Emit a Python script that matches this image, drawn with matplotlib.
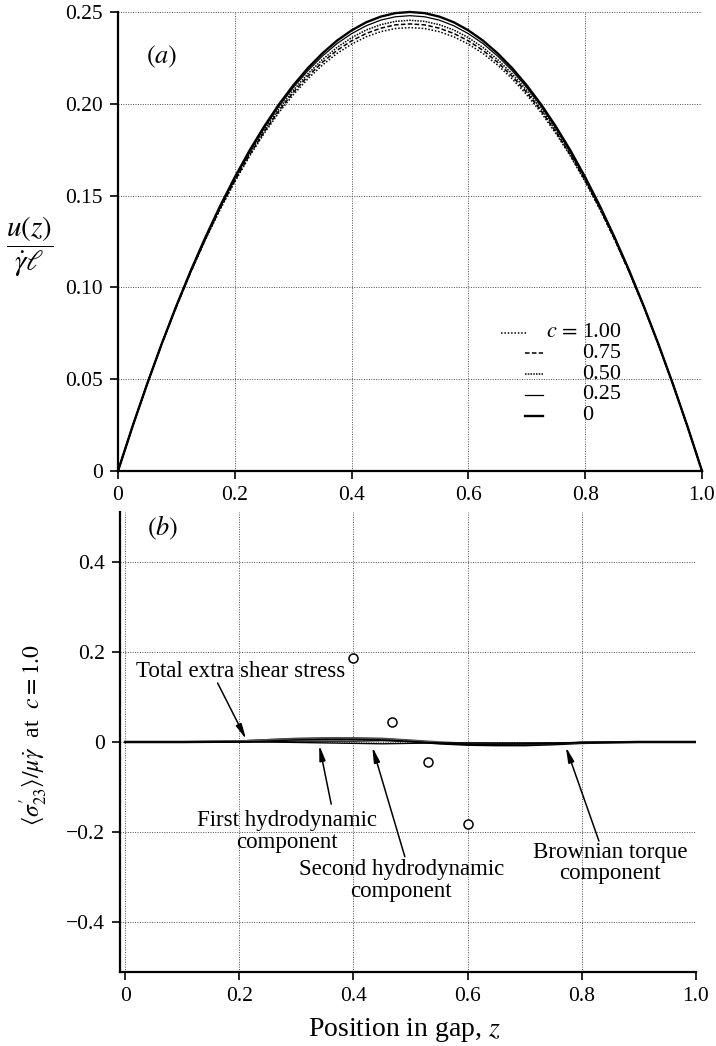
import numpy as np
import matplotlib
matplotlib.use("Agg")
import matplotlib.pyplot as plt

plt.rcParams["font.family"] = ["Liberation Serif", "DejaVu Serif"]
plt.rcParams["mathtext.fontset"] = "stix"

# ---- panel (a): velocity profiles u(z)/(gamma_dot l) for several c ----
z_a = [0.0, 0.025, 0.05, 0.075, 0.10, 0.125, 0.15, 0.175, 0.20, 0.225, 0.25,
       0.275, 0.30, 0.325, 0.35, 0.375, 0.40, 0.425, 0.45, 0.475, 0.50,
       0.525, 0.55, 0.575, 0.60, 0.625, 0.65, 0.675, 0.70, 0.725, 0.75,
       0.775, 0.80, 0.825, 0.85, 0.875, 0.90, 0.925, 0.95, 0.975, 1.0]
u_c000 = [0.0, 0.0244, 0.0475, 0.0694, 0.0900, 0.1094, 0.1275, 0.1444, 0.1600, 0.1744, 0.1875,
          0.1994, 0.2100, 0.2194, 0.2275, 0.2344, 0.2400, 0.2444, 0.2475, 0.2494, 0.2500,
          0.2494, 0.2475, 0.2444, 0.2400, 0.2344, 0.2275, 0.2194, 0.2100, 0.1994, 0.1875,
          0.1744, 0.1600, 0.1444, 0.1275, 0.1094, 0.0900, 0.0694, 0.0475, 0.0244, 0.0]
u_c025 = [0.0, 0.0244, 0.0475, 0.0694, 0.0899, 0.1092, 0.1272, 0.1440, 0.1594, 0.1737, 0.1866,
          0.1984, 0.2088, 0.2180, 0.2260, 0.2328, 0.2382, 0.2425, 0.2456, 0.2474, 0.2480,
          0.2474, 0.2456, 0.2425, 0.2382, 0.2328, 0.2260, 0.2180, 0.2088, 0.1984, 0.1866,
          0.1737, 0.1594, 0.1440, 0.1272, 0.1092, 0.0899, 0.0694, 0.0475, 0.0244, 0.0]
u_c050 = [0.0, 0.0244, 0.0475, 0.0693, 0.0898, 0.1089, 0.1268, 0.1434, 0.1587, 0.1727, 0.1855,
          0.1971, 0.2073, 0.2163, 0.2241, 0.2307, 0.2360, 0.2402, 0.2431, 0.2449, 0.2455,
          0.2449, 0.2431, 0.2402, 0.2360, 0.2307, 0.2241, 0.2163, 0.2073, 0.1971, 0.1855,
          0.1727, 0.1587, 0.1434, 0.1268, 0.1089, 0.0898, 0.0693, 0.0475, 0.0244, 0.0]
u_c075 = [0.0, 0.0244, 0.0475, 0.0693, 0.0897, 0.1087, 0.1265, 0.1430, 0.1581, 0.1720, 0.1846,
          0.1960, 0.2061, 0.2150, 0.2226, 0.2291, 0.2343, 0.2383, 0.2412, 0.2430, 0.2435,
          0.2430, 0.2412, 0.2383, 0.2343, 0.2291, 0.2226, 0.2150, 0.2061, 0.1960, 0.1846,
          0.1720, 0.1581, 0.1430, 0.1265, 0.1087, 0.0897, 0.0693, 0.0475, 0.0244, 0.0]
u_c100 = [0.0, 0.0244, 0.0475, 0.0692, 0.0896, 0.1085, 0.1262, 0.1425, 0.1575, 0.1713, 0.1837,
          0.1950, 0.2049, 0.2136, 0.2211, 0.2274, 0.2325, 0.2365, 0.2393, 0.2410, 0.2415,
          0.2410, 0.2393, 0.2365, 0.2325, 0.2274, 0.2211, 0.2136, 0.2049, 0.1950, 0.1837,
          0.1713, 0.1575, 0.1425, 0.1262, 0.1085, 0.0896, 0.0692, 0.0475, 0.0244, 0.0]
c_labels = ["1.00", "0.75", "0.50", "0.25", "0"]

# ---- panel (b): shear stress components at c = 1.0 ----
z_b = [0.0, 0.10, 0.20, 0.25, 0.30, 0.35, 0.40, 0.45, 0.50, 0.55, 0.60,
       0.65, 0.70, 0.75, 0.80, 0.90, 1.0]
s_total = [0.0, 0.0, 0.001, 0.004, 0.006, 0.007, 0.007, 0.006, 0.002, -0.003, -0.006,
           -0.007, -0.007, -0.005, -0.002, 0.0, 0.0]
s_hydro1 = [0.0, 0.0, 0.002, 0.005, 0.008, 0.009, 0.009, 0.008, 0.004, 0.0, -0.003,
            -0.004, -0.004, -0.003, -0.001, 0.0, 0.0]
s_hydro2 = [0.0, 0.0, 0.0, 0.001, 0.002, 0.002, 0.002, 0.003, 0.001, -0.003, -0.005,
            -0.005, -0.004, -0.003, -0.001, 0.0, 0.0]
s_brown = [0.0, 0.0, 0.0, 0.0, -0.001, -0.002, -0.003, -0.004, -0.003, -0.002, -0.002,
           -0.002, -0.002, -0.002, -0.001, 0.0, 0.0]
circ_z = [0.40, 0.468, 0.53, 0.60]
circ_s = [0.186, 0.045, -0.045, -0.183]

fig = plt.figure(figsize=(7.16, 10.46), dpi=100)

TICK_FS = 15.5


def style_axes(ax):
    for side in ("top", "right"):
        ax.spines[side].set_visible(False)
    for side in ("left", "bottom"):
        ax.spines[side].set_linewidth(1.6)
    ax.grid(True, linestyle=(0, (1, 1.5)), linewidth=0.7, color="0.3")
    ax.set_axisbelow(True)
    ax.tick_params(direction="out", length=6, width=1.2, labelsize=TICK_FS, pad=5)


# ---------------- panel (a) ----------------
ax1 = fig.add_axes([118 / 716, 1 - 471 / 1046, 584 / 716, 459 / 1046])
styles = [
    (u_c100, (0, (1, 1.2)), 1.1),
    (u_c075, (0, (3, 1.5)), 1.1),
    (u_c050, (0, (1, 0.8)), 1.1),
    (u_c025, "-", 0.9),
    (u_c000, "-", 1.7),
]
for vals, ls, lw in styles:
    ax1.plot(z_a, vals, color="k", linestyle=ls, linewidth=lw, clip_on=False)

ax1.set_xlim(0, 1.0)
ax1.set_ylim(0, 0.25)
ax1.set_xticks([0, 0.2, 0.4, 0.6, 0.8, 1.0])
ax1.set_xticklabels(["0", "0.2", "0.4", "0.6", "0.8", "1.0"])
ax1.set_yticks([0, 0.05, 0.10, 0.15, 0.20, 0.25])
ax1.set_yticklabels(["0", "0.05", "0.10", "0.15", "0.20", "0.25"])
style_axes(ax1)
ax1.text(0.075, 0.2255, r"$(a)$", fontsize=19, ha="center", va="center")

# hand-made legend (axes fraction)
row_y = [0.301, 0.256, 0.211, 0.166, 0.120]
for (vals, ls, lw), lab, ry in zip(styles, c_labels, row_y):
    if lab == "1.00":
        ax1.plot([0.655, 0.700], [ry, ry], transform=ax1.transAxes, color="k",
                 linestyle=ls, linewidth=lw)
        ax1.text(0.788, ry, r"$c\,=$", transform=ax1.transAxes, fontsize=16,
                 ha="right", va="center")
    else:
        ax1.plot([0.697, 0.728], [ry, ry], transform=ax1.transAxes, color="k",
                 linestyle=ls, linewidth=lw)
    ax1.text(0.794, ry, lab, transform=ax1.transAxes, fontsize=16,
             ha="left", va="center")

# ---------------- panel (b) ----------------
ax2 = fig.add_axes([120 / 716, 1 - 972 / 1046, 576 / 716, 460 / 1046])
ax2.plot(z_b, s_total, color="k", linewidth=1.8)
ax2.plot(z_b, s_hydro1, color="0.3", linewidth=1.2)
ax2.plot(z_b, s_hydro2, color="k", linewidth=1.0)
ax2.plot(z_b, s_brown, color="k", linewidth=1.0)
ax2.plot(circ_z, circ_s, "o", markersize=6.5, markerfacecolor="white",
         markeredgecolor="k", markeredgewidth=1.1, linestyle="none")

ax2.set_xlim(-0.009, 1.0)
ax2.set_ylim(-0.511, 0.511)
ax2.set_xticks([0, 0.2, 0.4, 0.6, 0.8, 1.0])
ax2.set_xticklabels(["0", "0.2", "0.4", "0.6", "0.8", "1.0"])
ax2.set_yticks([-0.4, -0.2, 0, 0.2, 0.4])
ax2.set_yticklabels(["\u22120.4", "\u22120.2", "0", "0.2", "0.4"])
style_axes(ax2)
ax2.text(0.065, 0.476, r"$(b)$", fontsize=19, ha="center", va="center")

arrow = dict(arrowstyle="-|>,head_width=0.18,head_length=0.9", color="k",
             linewidth=1.1, shrinkA=0, shrinkB=0)
ANN_FS = 16.5
ax2.text(0.386, 0.157, "Total extra shear stress", ha="right", va="center",
         fontsize=ANN_FS)
ax2.annotate("", xy=(0.212, 0.006), xytext=(0.162, 0.131), arrowprops=arrow)
ax2.annotate("", xy=(0.340, -0.007), xytext=(0.361, -0.138), arrowprops=arrow)
ax2.text(0.283, -0.199, "First hydrodynamic\ncomponent", ha="center", va="center",
         fontsize=ANN_FS, linespacing=1.05)
ax2.annotate("", xy=(0.433, -0.011), xytext=(0.49, -0.255), arrowprops=arrow)
ax2.text(0.484, -0.307, "Second hydrodynamic\ncomponent", ha="center", va="center",
         fontsize=ANN_FS, linespacing=1.05)
ax2.annotate("", xy=(0.772, -0.011), xytext=(0.83, -0.22), arrowprops=arrow)
ax2.text(0.85, -0.269, "Brownian torque\ncomponent", ha="center", va="center",
         fontsize=ANN_FS, linespacing=1.05)

# axis labels
fig.text(30 / 716, 1 - 247 / 1046, r"$\dfrac{u(z)}{\dot{\gamma}\ell}$", fontsize=21,
         ha="center", va="center")
fig.text(34 / 716, 1 - 735 / 1046,
         r"$\langle\sigma_{23}^{\prime}\rangle/\mu\dot{\gamma}$  at  $c = 1.0$",
         fontsize=17, rotation=90, ha="center", va="center")
fig.text(404 / 716, 1 - 1030 / 1046, r"Position in gap, $z$", fontsize=20,
         ha="center", va="center")

fig.savefig("out.png", dpi=100)
